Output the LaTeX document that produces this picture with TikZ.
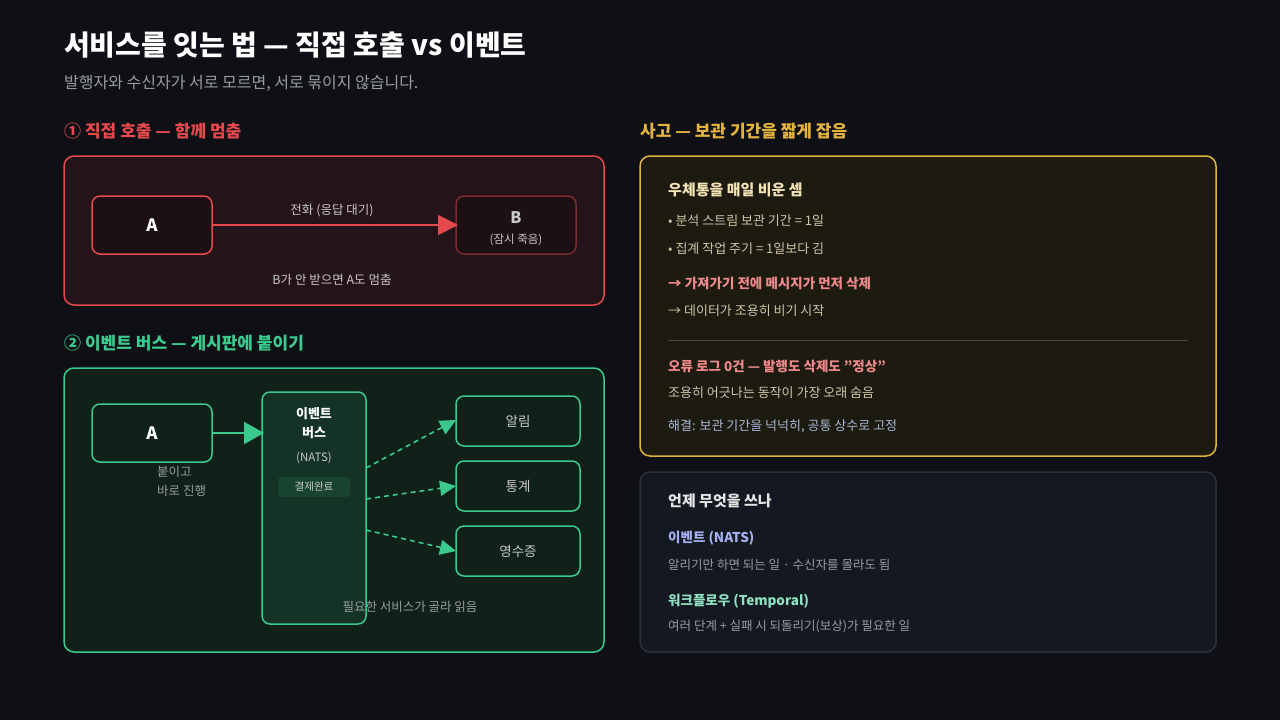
\documentclass[tikz,border=0pt]{standalone}
\usepackage{fontspec}
\setmainfont{Noto Sans CJK KR}
\usetikzlibrary{arrows.meta}
\definecolor{bg}{HTML}{0E1016}
\definecolor{redc}{HTML}{E5484D}
\definecolor{redfill}{HTML}{24141A}
\definecolor{grn}{HTML}{3CC98E}
\definecolor{grnfill}{HTML}{0F2119}
\definecolor{yel}{HTML}{E3B340}
\definecolor{yelfill}{HTML}{1D1A10}
\definecolor{gryb}{HTML}{2B303B}
\definecolor{gryfill}{HTML}{141821}
\definecolor{txt}{HTML}{C8C8C8}
\definecolor{sub}{HTML}{9A9CA3}
\definecolor{cream}{HTML}{F3E3B5}
\definecolor{cream2}{HTML}{CFC5A8}
\definecolor{pink}{HTML}{F08A8A}
\definecolor{bluegray}{HTML}{A9B8D6}
\definecolor{purp}{HTML}{A5B0F0}
\definecolor{teal}{HTML}{8EE0C0}
\begin{document}
\begin{tikzpicture}[x=1pt,y=-1pt,
  lbl/.style={inner sep=0pt,anchor=west},
  fs/.style={font=\fontsize{#1}{#1}\selectfont},
  bf/.style={font=\fontsize{#1}{#1}\selectfont\bfseries},
  panel/.style={rounded corners=10pt,line width=1.5pt},
  box/.style={rounded corners=8pt,line width=1.5pt},
  dasharr/.style={grn,line width=1.6pt,dash pattern=on 5pt off 4pt,-{Triangle[length=16pt,width=15pt]}}]
\fill[bg] (0,0) rectangle (1280,720);
\useasboundingbox (0,0) rectangle (1280,720);
\node[lbl,bf=28,white] (title) at (64,45) {서비스를 잇는 법 — 직접 호출 vs 이벤트};
\node[lbl,fs=16,sub] (subt) at (64,83) {발행자와 수신자가 서로 모르면, 서로 묶이지 않습니다.};
% section 1
\node[lbl,bf=17,redc] (h1) at (64,131) {① 직접 호출 — 함께 멈춤};
\draw[panel,redc,fill=redfill] (64,156) rectangle (604,305);
\draw[box,redc,fill=redfill!80!black] (92,196) rectangle (212,254);
\node[bf=17,white] (a1) at (152,225) {A};
\draw[box,redc!45!redfill,fill=redfill!80!black] (456,196) rectangle (576,254);
\node[bf=16,txt] (b1) at (516,218) {B};
\node[fs=11.5,txt] (b1s) at (516,240) {(잠시 죽음)};
\coordinate (a1e) at (212,225); \coordinate (b1w) at (458,225);
\draw[redc,line width=2pt,-{Triangle[length=20pt,width=20pt]}] (a1e) -- (b1w);
\node[fs=12.5,txt] (call) at (332,211) {전화 (응답 대기)};
\node[fs=12.5,txt] (stop) at (332,280) {B가 안 받으면 A도 멈춤};
% section 2
\node[lbl,bf=17,grn] (h2) at (64,343) {② 이벤트 버스 — 게시판에 붙이기};
\draw[panel,grn,fill=grnfill] (64,368) rectangle (604,652);
\draw[box,grn,fill=grnfill] (92,404) rectangle (212,462);
\node[bf=17,white] (a2) at (152,433) {A};
\draw[box,grn,fill=grnfill!90!grn] (262,392) rectangle (366,624);
\node[bf=13,white] (bus1) at (314,414) {이벤트};
\node[bf=13,white] (bus2) at (314,433) {버스};
\node[fs=11.5,txt] (nats) at (314,458) {(NATS)};
\fill[grn!20!grnfill,rounded corners=3pt] (278,477) rectangle (350,497);
\node[fs=10.5,txt] (tag) at (314,487) {결제완료};
\coordinate (a2e) at (212,433); \coordinate (busw) at (264,433);
\draw[grn,line width=2pt,-{Triangle[length=20pt,width=22pt]}] (a2e) -- (busw);
\node[lbl,fs=12.5,sub] (n1) at (157,472) {붙이고};
\node[lbl,fs=12.5,sub] (n2) at (157,491) {바로 진행};
\foreach \n/\y/\t in {r1/396/알림,r2/461/통계,r3/526/영수증}{
  \draw[box,grn,fill=grnfill] (456,\y) rectangle (580,\y+50);
  \node[fs=13.5,txt] (\n) at (518,\y+25) {\t};
}
\coordinate (s1) at (366,468); \coordinate (e1) at (456,420);
\coordinate (s2) at (366,499); \coordinate (e2) at (456,486);
\coordinate (s3) at (366,530); \coordinate (e3) at (456,551);
\draw[dasharr] (s1) -- (e1);
\draw[dasharr] (s2) -- (e2);
\draw[dasharr] (s3) -- (e3);
\node[fs=12.5,sub] (pick) at (410,607) {필요한 서비스가 골라 읽음};
% section 3
\node[lbl,bf=17,yel] (h3) at (640,131) {사고 — 보관 기간을 짧게 잡음};
\draw[panel,yel,fill=yelfill] (640,156) rectangle (1216,456);
\node[lbl,bf=15,cream] (t3) at (668,190) {우체통을 매일 비운 셈};
\node[lbl,fs=13,cream2] (b31) at (668,221) {• 분석 스트림 보관 기간 = 1일};
\node[lbl,fs=13,cream2] (b32) at (668,249) {• 집계 작업 주기 = 1일보다 김};
\node[lbl,bf=13.5,pink] (r31) at (668,283) {→ 가져가기 전에 메시지가 먼저 삭제};
\node[lbl,fs=13,cream2] (r32) at (668,311) {→ 데이터가 조용히 비기 시작};
\draw[white!20!yelfill,line width=1pt] (668,340) -- (1188,340);
\node[lbl,bf=13.5,pink] (r33) at (668,366) {오류 로그 0건 — 발행도 삭제도 "정상"};
\node[lbl,fs=13,cream2] (r34) at (668,393) {조용히 어긋나는 동작이 가장 오래 숨음};
\node[lbl,fs=13,bluegray] (r35) at (668,426) {해결: 보관 기간을 넉넉히, 공통 상수로 고정};
% section 4
\draw[panel,gryb,fill=gryfill] (640,472) rectangle (1216,652);
\node[lbl,bf=15,white!90!black] (t4) at (668,501) {언제 무엇을 쓰나};
\node[lbl,bf=13.5,purp] (e41) at (668,538) {이벤트 (NATS)};
\node[lbl,fs=12.5,sub] (e42) at (668,565) {알리기만 하면 되는 일 · 수신자를 몰라도 됨};
\node[lbl,bf=13.5,teal] (w41) at (668,601) {워크플로우 (Temporal)};
\node[lbl,fs=12.5,sub] (w42) at (668,627) {여러 단계 + 실패 시 되돌리기(보상)가 필요한 일};
\end{tikzpicture}
\end{document}
